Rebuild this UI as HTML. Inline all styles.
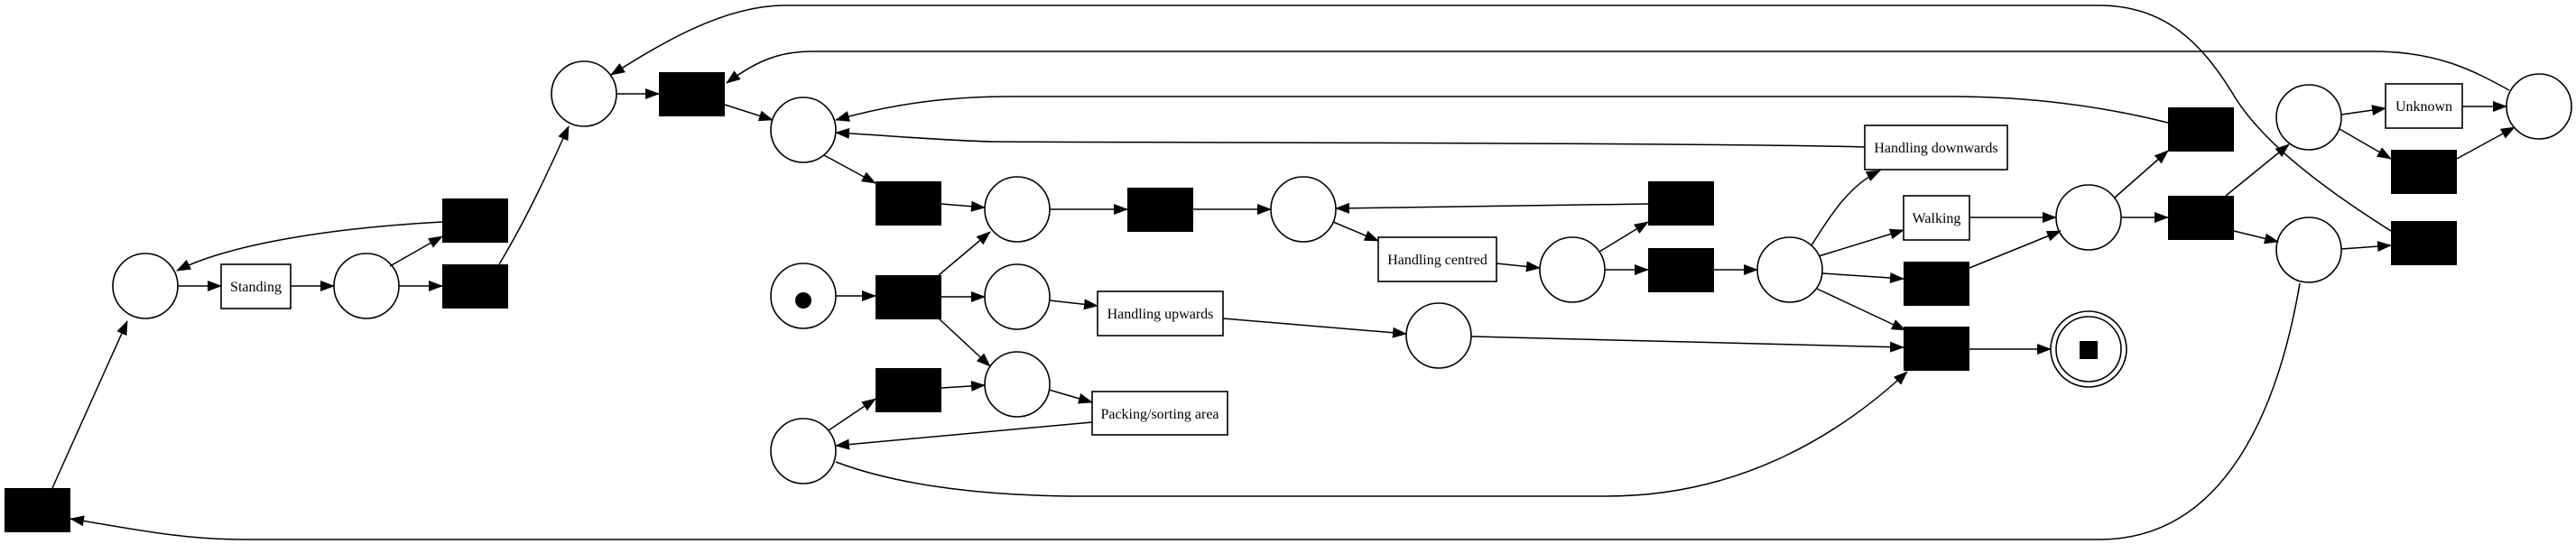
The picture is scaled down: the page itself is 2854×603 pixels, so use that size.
<!DOCTYPE html>
<html><head><meta charset="utf-8"><style>
html,body{margin:0;padding:0;background:#fff;}
svg{display:block;}
text{font-family:"Liberation Serif",serif;font-size:16px;fill:#000;}
</style></head><body>
<svg width="2854" height="603" viewBox="0 0 2854 603" xmlns="http://www.w3.org/2000/svg">
<defs>
<marker id="a" markerUnits="userSpaceOnUse" markerWidth="16" markerHeight="12" refX="15" refY="6" orient="auto">
<path d="M0,0 L16,6 L0,12 z" fill="#000"/>
</marker>
</defs>
<g fill="none" stroke="#000" stroke-width="1.6">
<ellipse cx="161" cy="317" rx="36" ry="36"/>
<ellipse cx="406" cy="317" rx="36" ry="36"/>
<ellipse cx="647" cy="104" rx="36" ry="36"/>
<ellipse cx="890" cy="144" rx="36" ry="36"/>
<ellipse cx="890" cy="328" rx="36" ry="36"/>
<ellipse cx="890" cy="500" rx="36" ry="36"/>
<ellipse cx="1127" cy="232" rx="36" ry="36"/>
<ellipse cx="1127" cy="329" rx="36" ry="36"/>
<ellipse cx="1127" cy="426" rx="36" ry="36"/>
<ellipse cx="1444" cy="232" rx="36" ry="36"/>
<ellipse cx="1742" cy="299" rx="36" ry="36"/>
<ellipse cx="1983" cy="299" rx="36" ry="36"/>
<ellipse cx="1594" cy="372" rx="36" ry="36"/>
<ellipse cx="2314" cy="241" rx="36" ry="36"/>
<ellipse cx="2314" cy="387" rx="42" ry="42"/>
<ellipse cx="2314" cy="387" rx="36" ry="36"/>
<ellipse cx="2558" cy="130" rx="36" ry="36"/>
<ellipse cx="2558" cy="277" rx="36" ry="36"/>
<ellipse cx="2813" cy="118" rx="36" ry="36"/>
<rect x="245" y="293" width="77" height="49"/>
<rect x="1216" y="323" width="139" height="49"/>
<rect x="1210" y="434" width="150" height="48"/>
<rect x="1527" y="263" width="131" height="49"/>
<rect x="2066" y="139" width="158" height="49"/>
<rect x="2109" y="217" width="73" height="49"/>
<rect x="2643" y="93" width="85" height="49"/>
</g>
<g fill="#000">
<circle cx="890" cy="333" r="9"/>
<rect x="2304" y="378" width="20" height="20"/>
<rect x="5" y="541" width="73" height="49"/>
<rect x="490" y="220" width="73" height="49"/>
<rect x="490" y="293" width="73" height="49"/>
<rect x="730" y="80" width="73" height="49"/>
<rect x="970" y="201" width="73" height="49"/>
<rect x="970" y="305" width="73" height="49"/>
<rect x="970" y="408" width="73" height="49"/>
<rect x="1249" y="208" width="73" height="49"/>
<rect x="1826" y="201" width="73" height="49"/>
<rect x="1826" y="275" width="73" height="49"/>
<rect x="2109" y="290" width="73" height="49"/>
<rect x="2109" y="362" width="73" height="49"/>
<rect x="2402" y="119" width="73" height="49"/>
<rect x="2402" y="217" width="73" height="49"/>
<rect x="2649" y="166" width="73" height="49"/>
<rect x="2649" y="245" width="73" height="49"/>
</g>
<g text-anchor="middle">
<text x="283.5" y="323">Standing</text>
<text x="1285.5" y="353">Handling upwards</text>
<text x="1285" y="464">Packing/sorting area</text>
<text x="1592.5" y="293">Handling centred</text>
<text x="2145" y="169">Handling downwards</text>
<text x="2145.5" y="247">Walking</text>
<text x="2685.5" y="123">Unknown</text>
</g>
<g fill="none" stroke="#000" stroke-width="1.5" marker-end="url(#a)">
<path d="M58,541 L141,356"/>
<path d="M197,317 L245,317"/>
<path d="M322,317 L370,317"/>
<path d="M432,295 L490,262"/>
<path d="M442,317 L490,317"/>
<path d="M490,246 C380,252 260,268 196,300"/>
<path d="M553,293 C585,240 612,180 630,140"/>
<path d="M683,104 L730,104"/>
<path d="M803,116 L856,133"/>
<path d="M913,172 L970,203"/>
<path d="M926,328 L970,328"/>
<path d="M918,477 L970,442"/>
<path d="M1043,226 L1091,230"/>
<path d="M1040,305 L1097,257"/>
<path d="M1043,329 L1091,329"/>
<path d="M1040,353 L1097,406"/>
<path d="M1043,430 L1091,427"/>
<path d="M1163,232 L1249,232"/>
<path d="M1322,232 L1408,232"/>
<path d="M1826,226 L1480,231"/>
<path d="M1477,246 L1527,267"/>
<path d="M1658,292 L1706,297"/>
<path d="M1772,279 L1826,246"/>
<path d="M1778,299 L1826,299"/>
<path d="M1899,299 L1947,299"/>
<path d="M1163,333 L1216,339"/>
<path d="M1355,353 L1558,370"/>
<path d="M1630,373 L2109,385"/>
<path d="M2182,387 L2272,387"/>
<path d="M1162,432 L1210,446"/>
<path d="M1210,468 L926,494"/>
<path d="M926,512 C1000,540 1100,550 1200,550 L1780,550 C1930,550 2040,480 2113,412"/>
<path d="M2007,272 C2030,235 2050,205 2083,189"/>
<path d="M2015,284 L2109,255"/>
<path d="M2019,303 L2109,309"/>
<path d="M2013,320 L2111,366"/>
<path d="M2066,163 C1900,158 1200,158 1100,157 C1050,156 980,150 926,147"/>
<path d="M2182,241 L2278,241"/>
<path d="M2182,297 L2283,256"/>
<path d="M2343,219 L2402,167"/>
<path d="M2350,241 L2402,241"/>
<path d="M2402,136 C2330,118 2250,107 2162,107 L1120,107 C1050,107 990,115 926,133"/>
<path d="M2466,217 L2536,160"/>
<path d="M2475,256 L2524,268"/>
<path d="M2594,127 L2643,120"/>
<path d="M2592,143 L2649,176"/>
<path d="M2728,118 L2777,118"/>
<path d="M2722,176 L2786,141"/>
<path d="M2594,276 L2649,272"/>
<path d="M2649,256 C2560,200 2500,150 2472,101 C2440,50 2400,6 2326,6 L870,6 C800,6 730,50 677,83"/>
<path d="M2780,100 C2740,78 2700,57 2630,57 L900,57 C860,57 835,70 805,92"/>
<path d="M2548,314 C2530,420 2480,598 2326,598 L270,598 C200,598 140,585 78,575"/>
</g>
</svg>
</body></html>
